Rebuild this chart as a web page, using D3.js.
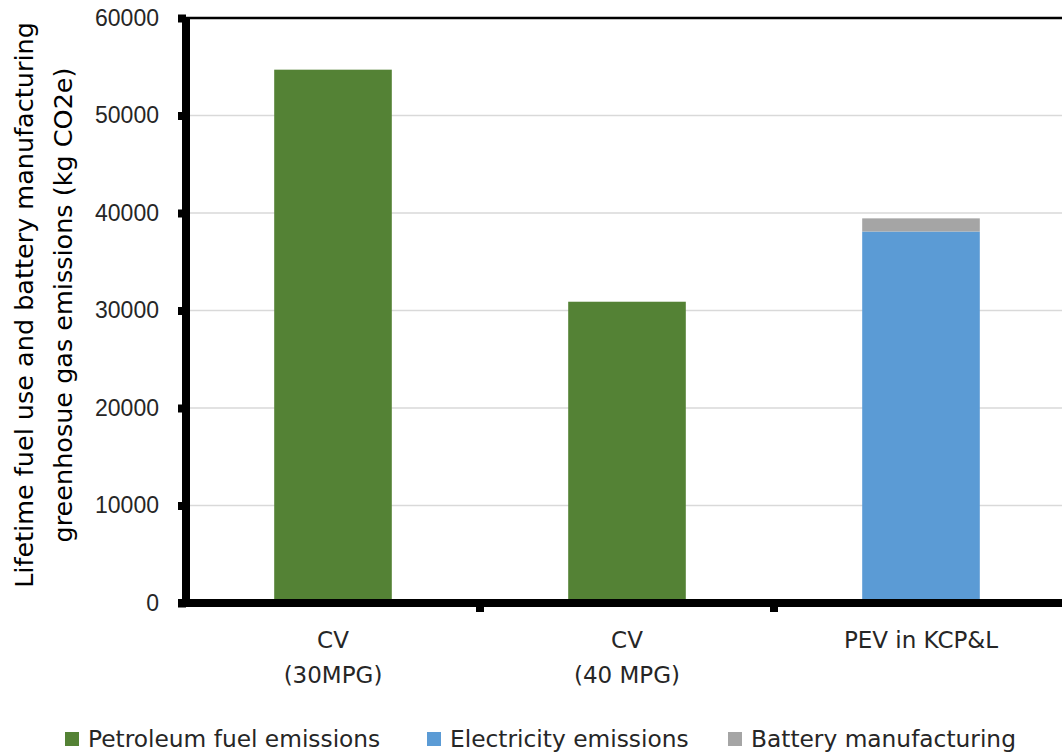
<!DOCTYPE html>
<html>
<head>
<meta charset="utf-8">
<script src="https://cdn.jsdelivr.net/npm/d3@7"></script>
<style>
  body { margin: 0; background: #fff; }
  svg { display: block; font-family: "DejaVu Sans", sans-serif; }
  .tick-label { font-size: 23px; fill: #262626; }
  .cat-label { font-size: 23px; fill: #262626; }
  .legend-label { font-size: 23.3px; fill: #262626; }
  .y-title { font-size: 25.5px; fill: #000; }
</style>
</head>
<body>
<div id="chart"></div>
<script>
// data
var categories = ["CV|(30MPG)", "CV|(40 MPG)", "PEV in KCP&L"];
var seriesNames = ["Petroleum fuel emissions", "Electricity emissions", "Battery manufacturing"];
var petroleum = [54700, 30900, 0];
var electricity = [0, 0, 38100];
var battery = [0, 0, 1350];
var yTicks = [0, 10000, 20000, 30000, 40000, 50000, 60000];
var colors = ["#548235", "#5b9bd5", "#a5a5a5"];

var W = 1062, H = 755;
var margin = {top: 18, left: 186, bottom: 152};
var plotW = 3 * 294,
    plotH = H - margin.top - margin.bottom;

var svg = d3.select("#chart").append("svg")
    .attr("width", W)
    .attr("height", H);

var x = d3.scaleBand()
    .domain(categories)
    .range([margin.left, margin.left + plotW])
    .paddingInner(0.6)
    .paddingOuter(0.3);

var y = d3.scaleLinear()
    .domain([0, 60000])
    .range([margin.top + plotH, margin.top]);

var rows = categories.map(function(c, i) {
  return {cat: c, p: petroleum[i], e: electricity[i], b: battery[i]};
});
var stack = d3.stack().keys(["p", "e", "b"]);
var layers = stack(rows);

// gridlines
svg.append("g")
  .selectAll("line")
  .data(yTicks.filter(function(d) { return d > 0 && d < 60000; }))
  .enter().append("line")
    .attr("x1", margin.left)
    .attr("x2", margin.left + plotW)
    .attr("y1", function(d) { return y(d); })
    .attr("y2", function(d) { return y(d); })
    .attr("stroke", "#d9d9d9")
    .attr("stroke-width", 1.3);

// top border
svg.append("line")
    .attr("x1", margin.left)
    .attr("x2", margin.left + plotW)
    .attr("y1", y(60000))
    .attr("y2", y(60000))
    .attr("stroke", "#000")
    .attr("stroke-width", 2.5);

// bars
svg.append("g")
  .selectAll("g")
  .data(layers)
  .enter().append("g")
    .attr("fill", function(d, i) { return colors[i]; })
  .selectAll("rect")
  .data(function(d) { return d; })
  .enter().append("rect")
    .attr("x", function(d) { return x(d.data.cat); })
    .attr("width", x.bandwidth())
    .attr("y", function(d) { return y(d[1]); })
    .attr("height", function(d) { return y(d[0]) - y(d[1]); });

// y axis
var yAxis = d3.axisLeft(y)
    .tickValues(yTicks)
    .tickSize(8)
    .tickPadding(19)
    .tickFormat(d3.format("d"));

var gy = svg.append("g")
    .attr("transform", "translate(" + margin.left + ",0)")
    .call(yAxis);
gy.select(".domain").remove();
gy.selectAll(".tick line").attr("stroke", "#000").attr("stroke-width", 8);
gy.selectAll(".tick text").attr("class", "tick-label");
gy.append("line")
    .attr("x1", 0).attr("x2", 0)
    .attr("y1", y(60000) - 1)
    .attr("y2", y(0) + 4)
    .attr("stroke", "#000")
    .attr("stroke-width", 8);

// x axis
var xAxis = d3.axisBottom(x).tickSize(0).tickFormat("");
var gx = svg.append("g")
    .attr("transform", "translate(0," + y(0) + ")")
    .call(xAxis);
gx.select(".domain").remove();
gx.append("line")
    .attr("x1", margin.left - 8)
    .attr("x2", margin.left + plotW)
    .attr("stroke", "#000")
    .attr("stroke-width", 8);
var step = x.step();
gx.selectAll(".sep")
  .data(categories.slice(1))
  .enter().append("line")
    .attr("class", "sep")
    .attr("x1", function(d) { return x(d) - (step - x.bandwidth()) / 2; })
    .attr("x2", function(d) { return x(d) - (step - x.bandwidth()) / 2; })
    .attr("y1", 0)
    .attr("y2", 9)
    .attr("stroke", "#000")
    .attr("stroke-width", 8);

// category labels
var cat = svg.append("g").selectAll("text")
  .data(categories)
  .enter().append("text")
    .attr("class", "cat-label")
    .attr("text-anchor", "middle")
    .attr("x", function(d) { return x(d) + x.bandwidth() / 2; })
    .attr("y", 648);
cat.selectAll("tspan")
  .data(function(d) { return d.split("|"); })
  .enter().append("tspan")
    .attr("x", function() { return d3.select(this.parentNode).attr("x"); })
    .attr("dy", function(d, i) { return i === 0 ? 0 : 35; })
    .text(function(d) { return d; });

// y axis title
var title = svg.append("text")
    .attr("class", "y-title")
    .attr("text-anchor", "middle")
    .attr("transform", "translate(33,305) rotate(-90)");
title.append("tspan").attr("x", 0).attr("dy", 0)
    .text("Lifetime fuel use and battery manufacturing");
title.append("tspan").attr("x", 0).attr("dy", 39)
    .text("greenhosue gas emissions (kg CO2e)");

// legend
var legendX = [65, 427, 728];
var legend = svg.append("g").selectAll("g")
  .data(seriesNames)
  .enter().append("g")
    .attr("transform", function(d, i) { return "translate(" + legendX[i] + ",732)"; });
legend.append("rect")
    .attr("width", 14)
    .attr("height", 14)
    .attr("fill", function(d, i) { return colors[i]; });
legend.append("text")
    .attr("class", "legend-label")
    .attr("x", 23)
    .attr("y", 15)
    .text(function(d) { return d; });
</script>
</body>
</html>
